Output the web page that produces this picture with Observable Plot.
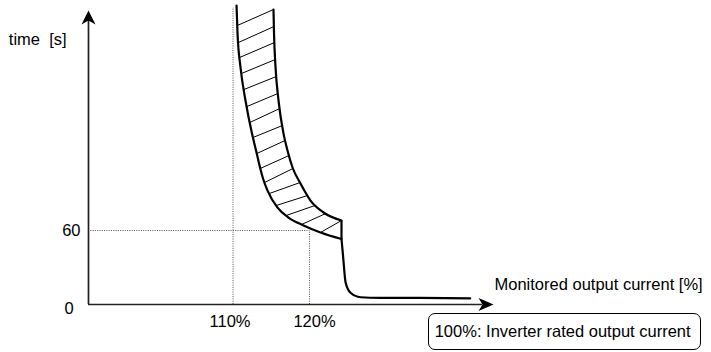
<!DOCTYPE html>
<html>
<head>
<meta charset="utf-8">
<script src="https://cdn.jsdelivr.net/npm/d3@7"></script>
<script src="https://cdn.jsdelivr.net/npm/@observablehq/plot@0.6"></script>
<style>
  html, body { margin: 0; padding: 0; background: #fff; overflow: hidden; }
  #wrap { position: relative; width: 711px; height: 352px; font-family: "Liberation Sans", Arial, sans-serif; }
  #note { position: absolute; left: 428px; top: 313px; width: 273px; height: 37px; box-sizing: border-box;
          border: 1.3px solid #000; border-radius: 7px; font-size: 16.5px; padding-left: 5.7px;
          line-height: 34.4px; color: #000; white-space: nowrap; }
</style>
</head>
<body>
<div id="wrap"><div id="note"></div></div>
<script>
// ---- data (x: monitored output current [%], y: time [s]) ----
const xAxisExtent = [91.11, 142.61];   // drawn x axis: origin .. arrow
const yAxisExtent = [0, 230.3];        // drawn y axis: origin .. arrow
const xTicks = [110, 120];
const yTicks = [0, 60];
const xTickLabels = ["110%", "120%"];
const yTickLabels = ["0", "60"];
const refTop110 = 240.8;               // top of the 110% guide
const xLabel = "Monitored output current [%]";
const yLabel = "time\u00a0\u00a0[s]";
const noteText = "100%: Inverter rated output current";

// lower (left) limit curve
const curveLeft = [[110.46,242.4],[110.59,219.7],[110.98,192.2],[111.63,165.4],[112.48,138.6],[113.01,124.9],
  [113.53,111.1],[113.92,102.2],[114.51,92.4],[115.82,78.6],[117.25,70.5],[119.22,64.1],[121.44,58.4],[124.18,53.1]];
// upper (right) limit curve
const curveRight = [[115.29,239.2],[115.36,219.7],[115.56,192.2],[115.95,165.4],[116.60,138.6],[117.12,124.9],
  [117.78,111.1],[118.82,98.1],[120.13,84.3],[121.83,74.6],[124.18,68.1]];
// drop and tail after the limit
const dropTail = [[124.18,53.1],[124.38,39.7],[124.71,18.1],[125.36,9.5],[126.67,5.9],[129.28,5.4],[134.5,5.3],[141.0,4.9]];
// hatch segments: endpoints on left and right curves
const hatchLeft = [[110.55,226.2],[110.69,212.4],[110.86,200.3],[111.10,187.3],[111.41,174.3],[111.80,160.5],
  [112.20,147.6],[112.60,135.4],[113.10,122.4],[113.56,110.3],[114.12,98.9],[114.75,90.0],[115.66,80.3],
  [116.97,72.2],[118.97,64.9],[121.44,58.4]];
const hatchRight = [[115.29,239.2],[115.35,225.4],[115.41,212.4],[115.50,198.6],[115.66,184.9],[115.87,171.1],
  [116.10,158.9],[116.44,145.1],[116.81,133.0],[117.32,120.8],[117.84,110.3],[118.76,98.9],[119.75,88.4],
  [120.72,80.3],[122.13,73.8],[124.18,68.1]];

const hatch = hatchLeft.map((p, i) => ({x1: p[0], y1: p[1], x2: hatchRight[i][0], y2: hatchRight[i][1]}));
const lastR = curveRight[curveRight.length - 1];
const connector = [{x1: lastR[0], y1: lastR[1], x2: dropTail[0][0], y2: dropTail[0][1]}];

const arrowUp = {draw(ctx) { ctx.moveTo(0, -10); ctx.lineTo(7, 4); ctx.lineTo(0, 0); ctx.lineTo(-7, 4); ctx.closePath(); }};
const arrowRight = {draw(ctx) { ctx.moveTo(11, 0); ctx.lineTo(-4, 6.5); ctx.lineTo(0, 0); ctx.lineTo(-4, -6.5); ctx.closePath(); }};

const font = {fontSize: 16.5, fontFamily: "Liberation Sans, Arial, sans-serif", fill: "#000"};
const dotted = {stroke: "#555", strokeWidth: 1, strokeDasharray: "1,1.3"};

const chart = Plot.plot({
  width: 711, height: 352,
  marginLeft: 88, marginRight: 229, marginTop: 20, marginBottom: 48,
  x: {type: "linear", domain: xAxisExtent, axis: null},
  y: {type: "linear", domain: yAxisExtent, axis: null},
  style: {background: "#fff", overflow: "visible"},
  marks: [
    // guides
    Plot.ruleX([xTicks[0]], {y1: yTicks[0], y2: refTop110, ...dotted}),
    Plot.ruleX([xTicks[1]], {y1: yTicks[0], y2: yTicks[1], ...dotted}),
    Plot.ruleY([yTicks[1]], {x1: xAxisExtent[0], x2: xTicks[1], ...dotted}),
    // hatch
    Plot.link(hatch, {x1: "x1", y1: "y1", x2: "x2", y2: "y2", stroke: "#000", strokeWidth: 1}),
    // limit curves
    Plot.line(curveLeft, {curve: "monotone-x", stroke: "#000", strokeWidth: 2.2}),
    Plot.line(curveRight, {curve: "monotone-x", stroke: "#000", strokeWidth: 2.2}),
    Plot.link(connector, {x1: "x1", y1: "y1", x2: "x2", y2: "y2", stroke: "#000", strokeWidth: 2.2}),
    Plot.line(dropTail, {curve: "monotone-x", stroke: "#000", strokeWidth: 2.2}),
    // axes
    Plot.ruleY([yAxisExtent[0]], {stroke: "#222", strokeWidth: 1.7}),
    Plot.ruleX([xAxisExtent[0]], {stroke: "#222", strokeWidth: 1.7}),
    Plot.dot([0], {frameAnchor: "top-left", symbol: arrowUp, fill: "#000", stroke: "none"}),
    Plot.dot([0], {frameAnchor: "bottom-right", symbol: arrowRight, fill: "#000", stroke: "none"}),
    // tick labels
    Plot.text([yTicks[0]], {y: d => d, frameAnchor: "left", text: () => yTickLabels[0], textAnchor: "middle", dx: -19.5, dy: 4, ...font}),
    Plot.text([yTicks[1]], {y: d => d, frameAnchor: "left", text: () => yTickLabels[1], textAnchor: "end", dx: -8, dy: 0, ...font}),
    Plot.text([xTicks[0]], {x: d => d, y: () => yTicks[0], text: () => xTickLabels[0], dx: -3, dy: 17.4, ...font}),
    Plot.text([xTicks[1]], {x: d => d, y: () => yTicks[0], text: () => xTickLabels[1], dx: 5, dy: 17.4, ...font}),
    // axis labels
    Plot.text([yLabel], {frameAnchor: "top-left", text: d => d, textAnchor: "start", dx: -79.7, dy: 13, ...font}),
    Plot.text([xLabel], {frameAnchor: "bottom-right", text: d => d, textAnchor: "start", dx: 12, dy: -14.5, ...font})
  ]
});
const wrap = document.getElementById("wrap");
wrap.insertBefore(chart, wrap.firstChild);
document.getElementById("note").textContent = noteText;
</script>
</body>
</html>
